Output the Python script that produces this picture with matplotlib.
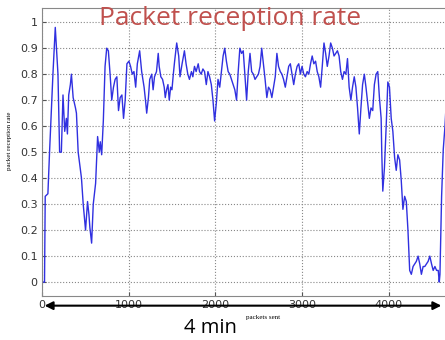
import matplotlib
matplotlib.use("Agg")
import matplotlib.pyplot as plt

# packets sent vs packet reception rate
packets = [0, 31, 39, 70, 89, 128, 155, 186, 205, 225, 244, 264, 283, 295, 310,
           329, 341, 361, 388, 399, 419, 438, 457, 477, 504, 527, 543, 554, 574,
           593, 620, 643, 663, 674, 690, 709, 729, 748, 767, 787, 806, 826, 845,
           865, 884, 903, 923, 942, 961, 981,
           1004, 1023, 1043, 1062, 1082, 1101, 1128, 1151, 1179, 1198, 1209, 1229,
           1244, 1267, 1283, 1299, 1322, 1342, 1353, 1372, 1392, 1411, 1423, 1438,
           1454, 1469, 1485, 1500, 1516, 1531, 1555, 1578, 1593, 1617, 1644, 1663,
           1683, 1702, 1725, 1741, 1760, 1779, 1803, 1818, 1837, 1857, 1876, 1896,
           1915, 1934, 1954, 1973, 1992,
           2012, 2031, 2051, 2070, 2090, 2109, 2128, 2148, 2167, 2186, 2206, 2225,
           2245, 2264, 2283, 2303, 2322, 2342, 2361, 2380, 2400, 2419, 2439, 2458,
           2477, 2497, 2516, 2535, 2555, 2574, 2594, 2613, 2632, 2652, 2671, 2691,
           2710, 2729, 2749, 2768, 2787, 2807, 2826, 2846, 2865, 2884, 2904, 2923,
           2943, 2962, 2981,
           3000, 3020, 3039, 3059, 3078, 3098, 3117, 3136, 3156, 3175, 3194, 3214,
           3233, 3253, 3272, 3291, 3311, 3330, 3350, 3369, 3388, 3408, 3427, 3446,
           3466, 3485, 3505, 3524, 3543, 3563, 3582, 3602, 3621, 3640, 3660, 3679,
           3698, 3718, 3737, 3757, 3776, 3795, 3815, 3834, 3854, 3873, 3892, 3912,
           3919, 3931, 3950, 3970, 3989,
           4008, 4028, 4047, 4067, 4086, 4105, 4125, 4144, 4163, 4183, 4202, 4221,
           4241, 4260, 4280, 4299, 4318, 4338, 4357, 4376, 4396, 4415, 4435, 4454,
           4473, 4493, 4512, 4532, 4551, 4570, 4582, 4590, 4609, 4628, 4648, 4667,
           4687]
rate = [0.0, 0.0, 0.33, 0.34, 0.50, 0.80, 0.98, 0.80, 0.50, 0.50, 0.72, 0.58,
        0.63, 0.57, 0.72, 0.76, 0.80, 0.71, 0.67, 0.65, 0.50, 0.45, 0.40, 0.30,
        0.20, 0.31, 0.26, 0.21, 0.15, 0.30, 0.38, 0.56, 0.50, 0.54, 0.49, 0.62,
        0.83, 0.90, 0.89, 0.80, 0.70, 0.75, 0.78, 0.79, 0.66, 0.71, 0.72, 0.63,
        0.70, 0.84,
        0.85, 0.83, 0.80, 0.81, 0.75, 0.84, 0.89, 0.81, 0.75, 0.69, 0.65, 0.71,
        0.78, 0.80, 0.74, 0.79, 0.81, 0.88, 0.83, 0.79, 0.78, 0.75, 0.71, 0.74,
        0.76, 0.70, 0.75, 0.74, 0.80, 0.85, 0.92, 0.87, 0.79, 0.84, 0.89, 0.84,
        0.80, 0.78, 0.81, 0.79, 0.83, 0.81, 0.84, 0.81, 0.80, 0.82, 0.81, 0.76,
        0.81, 0.79, 0.76, 0.70, 0.62,
        0.69, 0.78, 0.75, 0.81, 0.87, 0.90, 0.85, 0.81, 0.80, 0.78, 0.76, 0.74,
        0.70, 0.81, 0.90, 0.88, 0.89, 0.79, 0.70, 0.81, 0.88, 0.81, 0.80, 0.78,
        0.79, 0.80, 0.83, 0.90, 0.84, 0.78, 0.71, 0.75, 0.74, 0.71, 0.75, 0.79,
        0.88, 0.83, 0.81, 0.80, 0.78, 0.75, 0.79, 0.83, 0.84, 0.80, 0.76, 0.80,
        0.83, 0.84, 0.80,
        0.83, 0.80, 0.79, 0.81, 0.80, 0.84, 0.87, 0.84, 0.85, 0.81, 0.79, 0.75,
        0.83, 0.92, 0.88, 0.83, 0.87, 0.92, 0.90, 0.87, 0.88, 0.89, 0.87, 0.81,
        0.78, 0.81, 0.80, 0.86, 0.75, 0.70, 0.75, 0.79, 0.75, 0.67, 0.57, 0.67,
        0.76, 0.80, 0.75, 0.69, 0.63, 0.67, 0.66, 0.76, 0.80, 0.81, 0.71, 0.63,
        0.50, 0.35, 0.44, 0.60, 0.77,
        0.75, 0.63, 0.58, 0.48, 0.43, 0.49, 0.47, 0.39, 0.28, 0.33, 0.31, 0.20,
        0.045, 0.03, 0.06, 0.07, 0.08, 0.10, 0.07, 0.03, 0.06, 0.06, 0.07, 0.08,
        0.10, 0.07, 0.045, 0.06, 0.045, 0.045, 0.0, 0.03, 0.33, 0.51, 0.60, 0.72,
        0.89]

x_ticks = [0, 1000, 2000, 3000, 4000]
y_ticks = [0, 0.1, 0.2, 0.3, 0.4, 0.5, 0.6, 0.7, 0.8, 0.9, 1]
y_tick_labels = ["0", "0.1", "0.2", "0.3", "0.4", "0.5", "0.6", "0.7", "0.8", "0.9", "1"]

fig = plt.figure(figsize=(4.45, 3.4), dpi=100)
ax = fig.add_axes([0.094, 0.129, 0.92, 0.847])

ax.plot(packets, rate, color="#3030e0", linewidth=1.0)

ax.set_xlim(0, 4720)
ax.set_ylim(-0.054, 1.054)
ax.set_xticks(x_ticks)
ax.set_xticklabels([str(t) for t in x_ticks], fontsize=8, color="#333333")
ax.set_yticks(y_ticks)
ax.set_yticklabels(y_tick_labels, fontsize=8, color="#333333")
ax.tick_params(direction="in", length=3, pad=3, color="#555555")
ax.grid(True, linestyle=":", color="#888888", linewidth=0.8)
for s in ax.spines.values():
    s.set_color("#888888")

ax.set_xlabel("packets sent", fontsize=5, family="Liberation Serif")
ax.xaxis.set_label_coords(0.54, -0.066)
ax.set_ylabel("packet reception rate", fontsize=5, family="Liberation Serif")
ax.yaxis.set_label_coords(-0.072, 0.54)

fig.text(0.517, 0.947, "Packet reception rate", color="#c0504d", fontsize=19,
         family="Open Sans", ha="center", va="center")

# double-headed arrow spanning the whole run, marked "4 min"
fig.patches.append(matplotlib.patches.FancyArrowPatch(
    (0.094, 0.101), (0.998, 0.101), transform=fig.transFigure,
    arrowstyle="<|-|>", mutation_scale=12, color="black", linewidth=1.5))
fig.text(0.472, 0.034, "4 min", fontsize=14.5, family="Open Sans",
         ha="center", va="center")

fig.savefig("out.png", dpi=100)
